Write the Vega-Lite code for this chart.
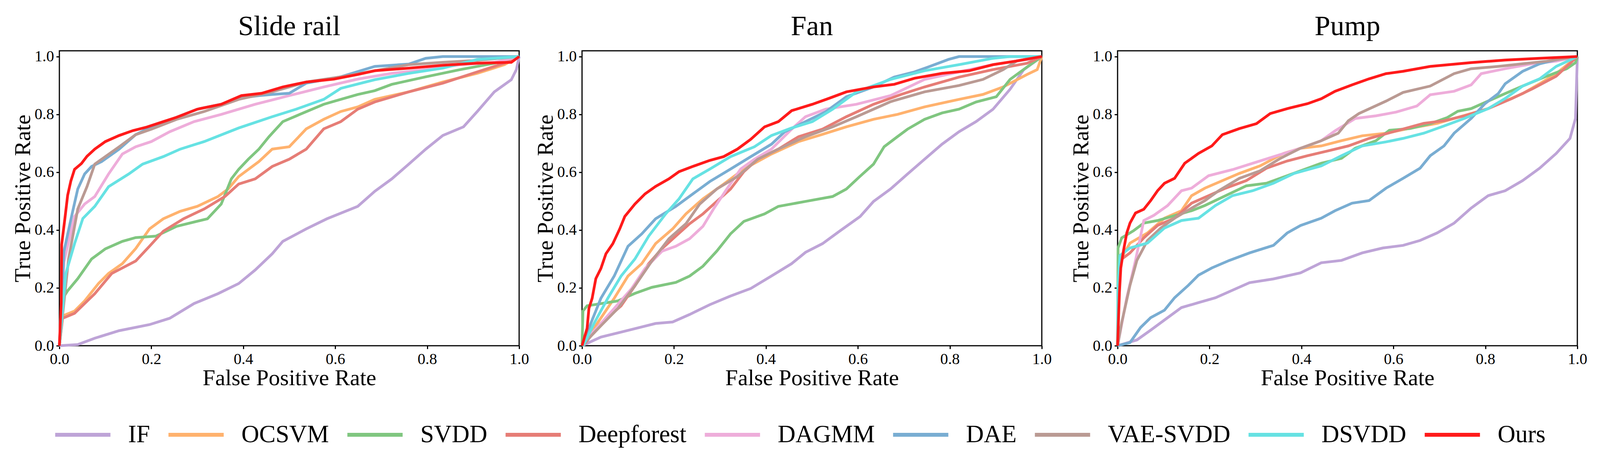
{
"$schema": "https://vega.github.io/schema/vega-lite/v6.json",
"padding": {"left": 28, "top": 30, "right": 10, "bottom": 10},
"background": "white",
"config": {
  "font": "Liberation Serif",
  "view": {"stroke": "black", "strokeWidth": 3},
  "title": {"font": "Liberation Serif", "fontSize": 72, "fontWeight": "normal", "color": "black", "offset": 20},
  "axis": {"labelFont": "Liberation Serif", "titleFont": "Liberation Serif", "labelFontSize": 40, "titleFontSize": 58, "titleFontWeight": "normal", "labelColor": "black", "titleColor": "black", "tickColor": "black", "tickWidth": 3, "tickSize": 8, "domain": false, "grid": false, "labelPadding": 6, "titlePadding": 0, "labelFlush": false, "labelOverlap": false},
  "legend": {"orient": "bottom", "direction": "horizontal", "symbolType": "stroke", "symbolSize": 20000, "symbolStrokeWidth": 10, "labelFont": "Liberation Serif", "labelFontSize": 63, "labelColor": "black", "labelOffset": 40, "columnPadding": 26, "labelLimit": 0, "offset": 38, "title": null, "layout": {"bottom": {"anchor": "middle"}}}
},
"datasets": {
"slide": [
{"m":"IF","x":0,"y":0},{"m":"IF","x":0.04,"y":0.004},{"m":"IF","x":0.077,"y":0.026},{"m":"IF","x":0.13,"y":0.052},{"m":"IF","x":0.196,"y":0.073},{"m":"IF","x":0.24,"y":0.095},{"m":"IF","x":0.293,"y":0.146},{"m":"IF","x":0.345,"y":0.18},{"m":"IF","x":0.39,"y":0.215},{"m":"IF","x":0.426,"y":0.262},{"m":"IF","x":0.463,"y":0.318},{"m":"IF","x":0.486,"y":0.361},{"m":"IF","x":0.537,"y":0.404},{"m":"IF","x":0.582,"y":0.439},{"m":"IF","x":0.649,"y":0.482},{"m":"IF","x":0.686,"y":0.534},{"m":"IF","x":0.723,"y":0.577},{"m":"IF","x":0.76,"y":0.628},{"m":"IF","x":0.797,"y":0.68},{"m":"IF","x":0.834,"y":0.727},{"m":"IF","x":0.879,"y":0.757},{"m":"IF","x":0.909,"y":0.81},{"m":"IF","x":0.946,"y":0.878},{"m":"IF","x":0.983,"y":0.92},{"m":"IF","x":0.994,"y":0.955},{"m":"IF","x":1,"y":1},
{"m":"OCSVM","x":0,"y":0},{"m":"OCSVM","x":0.007,"y":0.103},{"m":"OCSVM","x":0.033,"y":0.12},{"m":"OCSVM","x":0.055,"y":0.155},{"m":"OCSVM","x":0.085,"y":0.215},{"m":"OCSVM","x":0.107,"y":0.25},{"m":"OCSVM","x":0.137,"y":0.284},{"m":"OCSVM","x":0.166,"y":0.336},{"m":"OCSVM","x":0.196,"y":0.404},{"m":"OCSVM","x":0.226,"y":0.439},{"m":"OCSVM","x":0.263,"y":0.465},{"m":"OCSVM","x":0.3,"y":0.482},{"m":"OCSVM","x":0.345,"y":0.516},{"m":"OCSVM","x":0.367,"y":0.542},{"m":"OCSVM","x":0.39,"y":0.585},{"m":"OCSVM","x":0.434,"y":0.637},{"m":"OCSVM","x":0.463,"y":0.68},{"m":"OCSVM","x":0.5,"y":0.688},{"m":"OCSVM","x":0.537,"y":0.75},{"m":"OCSVM","x":0.575,"y":0.783},{"m":"OCSVM","x":0.612,"y":0.81},{"m":"OCSVM","x":0.649,"y":0.826},{"m":"OCSVM","x":0.686,"y":0.852},{"m":"OCSVM","x":0.76,"y":0.878},{"m":"OCSVM","x":0.834,"y":0.912},{"m":"OCSVM","x":0.909,"y":0.942},{"m":"OCSVM","x":0.968,"y":0.972},{"m":"OCSVM","x":1,"y":1},
{"m":"SVDD","x":0,"y":0},{"m":"SVDD","x":0.007,"y":0.163},{"m":"SVDD","x":0.018,"y":0.19},{"m":"SVDD","x":0.04,"y":0.232},{"m":"SVDD","x":0.07,"y":0.3},{"m":"SVDD","x":0.1,"y":0.335},{"m":"SVDD","x":0.137,"y":0.361},{"m":"SVDD","x":0.166,"y":0.374},{"m":"SVDD","x":0.21,"y":0.379},{"m":"SVDD","x":0.255,"y":0.413},{"m":"SVDD","x":0.322,"y":0.439},{"m":"SVDD","x":0.352,"y":0.49},{"m":"SVDD","x":0.374,"y":0.577},{"m":"SVDD","x":0.39,"y":0.61},{"m":"SVDD","x":0.411,"y":0.645},{"m":"SVDD","x":0.434,"y":0.68},{"m":"SVDD","x":0.456,"y":0.723},{"m":"SVDD","x":0.486,"y":0.775},{"m":"SVDD","x":0.523,"y":0.8},{"m":"SVDD","x":0.575,"y":0.835},{"m":"SVDD","x":0.649,"y":0.869},{"m":"SVDD","x":0.686,"y":0.882},{"m":"SVDD","x":0.723,"y":0.904},{"m":"SVDD","x":0.797,"y":0.93},{"m":"SVDD","x":0.872,"y":0.955},{"m":"SVDD","x":0.946,"y":0.977},{"m":"SVDD","x":1,"y":1},
{"m":"Deepforest","x":0,"y":0},{"m":"Deepforest","x":0.007,"y":0.095},{"m":"Deepforest","x":0.033,"y":0.112},{"m":"Deepforest","x":0.077,"y":0.18},{"m":"Deepforest","x":0.114,"y":0.25},{"m":"Deepforest","x":0.166,"y":0.293},{"m":"Deepforest","x":0.196,"y":0.344},{"m":"Deepforest","x":0.226,"y":0.396},{"m":"Deepforest","x":0.27,"y":0.439},{"m":"Deepforest","x":0.315,"y":0.473},{"m":"Deepforest","x":0.36,"y":0.516},{"m":"Deepforest","x":0.39,"y":0.559},{"m":"Deepforest","x":0.426,"y":0.577},{"m":"Deepforest","x":0.463,"y":0.62},{"m":"Deepforest","x":0.5,"y":0.645},{"m":"Deepforest","x":0.537,"y":0.68},{"m":"Deepforest","x":0.575,"y":0.75},{"m":"Deepforest","x":0.612,"y":0.775},{"m":"Deepforest","x":0.649,"y":0.818},{"m":"Deepforest","x":0.686,"y":0.843},{"m":"Deepforest","x":0.76,"y":0.878},{"m":"Deepforest","x":0.834,"y":0.908},{"m":"Deepforest","x":0.909,"y":0.947},{"m":"Deepforest","x":0.968,"y":0.977},{"m":"Deepforest","x":1,"y":1},
{"m":"DAGMM","x":0,"y":0},{"m":"DAGMM","x":0.01,"y":0.29},{"m":"DAGMM","x":0.033,"y":0.447},{"m":"DAGMM","x":0.055,"y":0.49},{"m":"DAGMM","x":0.077,"y":0.516},{"m":"DAGMM","x":0.107,"y":0.594},{"m":"DAGMM","x":0.137,"y":0.663},{"m":"DAGMM","x":0.166,"y":0.688},{"m":"DAGMM","x":0.2,"y":0.706},{"m":"DAGMM","x":0.24,"y":0.74},{"m":"DAGMM","x":0.293,"y":0.775},{"m":"DAGMM","x":0.352,"y":0.8},{"m":"DAGMM","x":0.426,"y":0.835},{"m":"DAGMM","x":0.5,"y":0.865},{"m":"DAGMM","x":0.575,"y":0.895},{"m":"DAGMM","x":0.649,"y":0.922},{"m":"DAGMM","x":0.723,"y":0.942},{"m":"DAGMM","x":0.797,"y":0.955},{"m":"DAGMM","x":0.872,"y":0.972},{"m":"DAGMM","x":0.946,"y":0.98},{"m":"DAGMM","x":1,"y":1},
{"m":"DAE","x":0,"y":0},{"m":"DAE","x":0.01,"y":0.327},{"m":"DAE","x":0.029,"y":0.465},{"m":"DAE","x":0.04,"y":0.542},{"m":"DAE","x":0.055,"y":0.594},{"m":"DAE","x":0.07,"y":0.62},{"m":"DAE","x":0.092,"y":0.637},{"m":"DAE","x":0.13,"y":0.68},{"m":"DAE","x":0.166,"y":0.73},{"m":"DAE","x":0.2,"y":0.757},{"m":"DAE","x":0.255,"y":0.79},{"m":"DAE","x":0.3,"y":0.818},{"m":"DAE","x":0.352,"y":0.835},{"m":"DAE","x":0.39,"y":0.856},{"m":"DAE","x":0.434,"y":0.865},{"m":"DAE","x":0.463,"y":0.869},{"m":"DAE","x":0.5,"y":0.873},{"m":"DAE","x":0.537,"y":0.908},{"m":"DAE","x":0.612,"y":0.93},{"m":"DAE","x":0.686,"y":0.966},{"m":"DAE","x":0.76,"y":0.974},{"m":"DAE","x":0.797,"y":0.994},{"m":"DAE","x":0.834,"y":1},{"m":"DAE","x":1,"y":1},
{"m":"VAE-SVDD","x":0,"y":0},{"m":"VAE-SVDD","x":0.02,"y":0.3},{"m":"VAE-SVDD","x":0.04,"y":0.473},{"m":"VAE-SVDD","x":0.06,"y":0.55},{"m":"VAE-SVDD","x":0.077,"y":0.628},{"m":"VAE-SVDD","x":0.13,"y":0.688},{"m":"VAE-SVDD","x":0.166,"y":0.73},{"m":"VAE-SVDD","x":0.2,"y":0.749},{"m":"VAE-SVDD","x":0.255,"y":0.783},{"m":"VAE-SVDD","x":0.315,"y":0.81},{"m":"VAE-SVDD","x":0.39,"y":0.852},{"m":"VAE-SVDD","x":0.463,"y":0.878},{"m":"VAE-SVDD","x":0.537,"y":0.912},{"m":"VAE-SVDD","x":0.612,"y":0.93},{"m":"VAE-SVDD","x":0.686,"y":0.951},{"m":"VAE-SVDD","x":0.76,"y":0.972},{"m":"VAE-SVDD","x":0.834,"y":0.98},{"m":"VAE-SVDD","x":0.909,"y":0.987},{"m":"VAE-SVDD","x":1,"y":1},
{"m":"DSVDD","x":0,"y":0},{"m":"DSVDD","x":0.014,"y":0.25},{"m":"DSVDD","x":0.033,"y":0.353},{"m":"DSVDD","x":0.051,"y":0.44},{"m":"DSVDD","x":0.077,"y":0.482},{"m":"DSVDD","x":0.107,"y":0.55},{"m":"DSVDD","x":0.151,"y":0.594},{"m":"DSVDD","x":0.181,"y":0.628},{"m":"DSVDD","x":0.226,"y":0.654},{"m":"DSVDD","x":0.263,"y":0.68},{"m":"DSVDD","x":0.315,"y":0.706},{"m":"DSVDD","x":0.39,"y":0.753},{"m":"DSVDD","x":0.463,"y":0.792},{"m":"DSVDD","x":0.515,"y":0.818},{"m":"DSVDD","x":0.575,"y":0.852},{"m":"DSVDD","x":0.612,"y":0.89},{"m":"DSVDD","x":0.686,"y":0.92},{"m":"DSVDD","x":0.76,"y":0.942},{"m":"DSVDD","x":0.834,"y":0.96},{"m":"DSVDD","x":0.909,"y":0.99},{"m":"DSVDD","x":1,"y":1},
{"m":"Ours","x":0,"y":0},{"m":"Ours","x":0.004,"y":0.15},{"m":"Ours","x":0.005,"y":0.35},{"m":"Ours","x":0.012,"y":0.44},{"m":"Ours","x":0.018,"y":0.52},{"m":"Ours","x":0.025,"y":0.57},{"m":"Ours","x":0.033,"y":0.61},{"m":"Ours","x":0.048,"y":0.63},{"m":"Ours","x":0.06,"y":0.655},{"m":"Ours","x":0.077,"y":0.68},{"m":"Ours","x":0.1,"y":0.706},{"m":"Ours","x":0.13,"y":0.727},{"m":"Ours","x":0.16,"y":0.744},{"m":"Ours","x":0.19,"y":0.756},{"m":"Ours","x":0.226,"y":0.775},{"m":"Ours","x":0.255,"y":0.79},{"m":"Ours","x":0.3,"y":0.818},{"m":"Ours","x":0.352,"y":0.835},{"m":"Ours","x":0.396,"y":0.865},{"m":"Ours","x":0.44,"y":0.873},{"m":"Ours","x":0.486,"y":0.895},{"m":"Ours","x":0.537,"y":0.912},{"m":"Ours","x":0.597,"y":0.922},{"m":"Ours","x":0.649,"y":0.938},{"m":"Ours","x":0.686,"y":0.951},{"m":"Ours","x":0.76,"y":0.96},{"m":"Ours","x":0.834,"y":0.97},{"m":"Ours","x":0.909,"y":0.977},{"m":"Ours","x":0.983,"y":0.98},{"m":"Ours","x":1,"y":1}
],
"fan": [
{"m":"IF","x":0,"y":0},{"m":"IF","x":0.041,"y":0.03},{"m":"IF","x":0.085,"y":0.047},{"m":"IF","x":0.13,"y":0.065},{"m":"IF","x":0.16,"y":0.077},{"m":"IF","x":0.197,"y":0.082},{"m":"IF","x":0.234,"y":0.108},{"m":"IF","x":0.278,"y":0.142},{"m":"IF","x":0.323,"y":0.172},{"m":"IF","x":0.367,"y":0.198},{"m":"IF","x":0.412,"y":0.241},{"m":"IF","x":0.456,"y":0.284},{"m":"IF","x":0.486,"y":0.323},{"m":"IF","x":0.523,"y":0.353},{"m":"IF","x":0.56,"y":0.396},{"m":"IF","x":0.605,"y":0.447},{"m":"IF","x":0.634,"y":0.499},{"m":"IF","x":0.671,"y":0.542},{"m":"IF","x":0.708,"y":0.594},{"m":"IF","x":0.745,"y":0.645},{"m":"IF","x":0.783,"y":0.697},{"m":"IF","x":0.82,"y":0.74},{"m":"IF","x":0.857,"y":0.775},{"m":"IF","x":0.894,"y":0.818},{"m":"IF","x":0.931,"y":0.887},{"m":"IF","x":0.961,"y":0.955},{"m":"IF","x":1,"y":1},
{"m":"OCSVM","x":0,"y":0},{"m":"OCSVM","x":0.004,"y":0.004},{"m":"OCSVM","x":0.033,"y":0.077},{"m":"OCSVM","x":0.07,"y":0.164},{"m":"OCSVM","x":0.1,"y":0.241},{"m":"OCSVM","x":0.13,"y":0.284},{"m":"OCSVM","x":0.16,"y":0.353},{"m":"OCSVM","x":0.197,"y":0.404},{"m":"OCSVM","x":0.226,"y":0.456},{"m":"OCSVM","x":0.263,"y":0.508},{"m":"OCSVM","x":0.308,"y":0.559},{"m":"OCSVM","x":0.352,"y":0.611},{"m":"OCSVM","x":0.412,"y":0.663},{"m":"OCSVM","x":0.471,"y":0.706},{"m":"OCSVM","x":0.523,"y":0.731},{"m":"OCSVM","x":0.575,"y":0.757},{"m":"OCSVM","x":0.634,"y":0.783},{"m":"OCSVM","x":0.686,"y":0.8},{"m":"OCSVM","x":0.745,"y":0.826},{"m":"OCSVM","x":0.82,"y":0.852},{"m":"OCSVM","x":0.872,"y":0.869},{"m":"OCSVM","x":0.916,"y":0.895},{"m":"OCSVM","x":0.968,"y":0.938},{"m":"OCSVM","x":0.99,"y":0.955},{"m":"OCSVM","x":1,"y":1},
{"m":"SVDD","x":0,"y":0},{"m":"SVDD","x":0.002,"y":0.12},{"m":"SVDD","x":0.011,"y":0.138},{"m":"SVDD","x":0.078,"y":0.155},{"m":"SVDD","x":0.115,"y":0.181},{"m":"SVDD","x":0.152,"y":0.202},{"m":"SVDD","x":0.204,"y":0.219},{"m":"SVDD","x":0.234,"y":0.241},{"m":"SVDD","x":0.263,"y":0.275},{"m":"SVDD","x":0.293,"y":0.327},{"m":"SVDD","x":0.323,"y":0.387},{"m":"SVDD","x":0.352,"y":0.43},{"m":"SVDD","x":0.397,"y":0.456},{"m":"SVDD","x":0.427,"y":0.482},{"m":"SVDD","x":0.486,"y":0.499},{"m":"SVDD","x":0.545,"y":0.516},{"m":"SVDD","x":0.575,"y":0.542},{"m":"SVDD","x":0.604,"y":0.585},{"m":"SVDD","x":0.634,"y":0.628},{"m":"SVDD","x":0.657,"y":0.688},{"m":"SVDD","x":0.686,"y":0.723},{"m":"SVDD","x":0.708,"y":0.749},{"m":"SVDD","x":0.745,"y":0.783},{"m":"SVDD","x":0.783,"y":0.805},{"m":"SVDD","x":0.82,"y":0.818},{"m":"SVDD","x":0.857,"y":0.843},{"m":"SVDD","x":0.901,"y":0.861},{"m":"SVDD","x":0.931,"y":0.921},{"m":"SVDD","x":0.968,"y":0.964},{"m":"SVDD","x":1,"y":1},
{"m":"Deepforest","x":0,"y":0},{"m":"Deepforest","x":0.007,"y":0.009},{"m":"Deepforest","x":0.041,"y":0.077},{"m":"Deepforest","x":0.085,"y":0.138},{"m":"Deepforest","x":0.115,"y":0.207},{"m":"Deepforest","x":0.145,"y":0.284},{"m":"Deepforest","x":0.174,"y":0.336},{"m":"Deepforest","x":0.204,"y":0.379},{"m":"Deepforest","x":0.234,"y":0.422},{"m":"Deepforest","x":0.263,"y":0.456},{"m":"Deepforest","x":0.293,"y":0.499},{"m":"Deepforest","x":0.323,"y":0.542},{"m":"Deepforest","x":0.352,"y":0.602},{"m":"Deepforest","x":0.382,"y":0.645},{"m":"Deepforest","x":0.427,"y":0.68},{"m":"Deepforest","x":0.471,"y":0.723},{"m":"Deepforest","x":0.523,"y":0.749},{"m":"Deepforest","x":0.575,"y":0.792},{"m":"Deepforest","x":0.634,"y":0.835},{"m":"Deepforest","x":0.694,"y":0.869},{"m":"Deepforest","x":0.745,"y":0.895},{"m":"Deepforest","x":0.82,"y":0.929},{"m":"Deepforest","x":0.894,"y":0.955},{"m":"Deepforest","x":0.968,"y":0.977},{"m":"Deepforest","x":1,"y":1},
{"m":"DAGMM","x":0,"y":0},{"m":"DAGMM","x":0.007,"y":0.017},{"m":"DAGMM","x":0.041,"y":0.077},{"m":"DAGMM","x":0.07,"y":0.129},{"m":"DAGMM","x":0.108,"y":0.198},{"m":"DAGMM","x":0.137,"y":0.267},{"m":"DAGMM","x":0.174,"y":0.327},{"m":"DAGMM","x":0.204,"y":0.344},{"m":"DAGMM","x":0.234,"y":0.37},{"m":"DAGMM","x":0.263,"y":0.413},{"m":"DAGMM","x":0.286,"y":0.473},{"m":"DAGMM","x":0.315,"y":0.542},{"m":"DAGMM","x":0.345,"y":0.611},{"m":"DAGMM","x":0.375,"y":0.645},{"m":"DAGMM","x":0.412,"y":0.68},{"m":"DAGMM","x":0.456,"y":0.749},{"m":"DAGMM","x":0.486,"y":0.792},{"m":"DAGMM","x":0.53,"y":0.818},{"m":"DAGMM","x":0.597,"y":0.835},{"m":"DAGMM","x":0.671,"y":0.865},{"m":"DAGMM","x":0.745,"y":0.921},{"m":"DAGMM","x":0.82,"y":0.947},{"m":"DAGMM","x":0.894,"y":0.972},{"m":"DAGMM","x":0.968,"y":0.99},{"m":"DAGMM","x":1,"y":1},
{"m":"DAE","x":0,"y":0},{"m":"DAE","x":0.004,"y":0.009},{"m":"DAE","x":0.019,"y":0.077},{"m":"DAE","x":0.041,"y":0.164},{"m":"DAE","x":0.07,"y":0.241},{"m":"DAE","x":0.1,"y":0.344},{"m":"DAE","x":0.13,"y":0.387},{"m":"DAE","x":0.16,"y":0.439},{"m":"DAE","x":0.204,"y":0.482},{"m":"DAE","x":0.241,"y":0.525},{"m":"DAE","x":0.278,"y":0.568},{"m":"DAE","x":0.323,"y":0.611},{"m":"DAE","x":0.367,"y":0.654},{"m":"DAE","x":0.412,"y":0.697},{"m":"DAE","x":0.441,"y":0.74},{"m":"DAE","x":0.486,"y":0.775},{"m":"DAE","x":0.53,"y":0.809},{"m":"DAE","x":0.575,"y":0.861},{"m":"DAE","x":0.634,"y":0.895},{"m":"DAE","x":0.679,"y":0.929},{"m":"DAE","x":0.723,"y":0.947},{"m":"DAE","x":0.753,"y":0.964},{"m":"DAE","x":0.797,"y":0.99},{"m":"DAE","x":0.82,"y":1},{"m":"DAE","x":1,"y":1},
{"m":"VAE-SVDD","x":0,"y":0},{"m":"VAE-SVDD","x":0.007,"y":0.013},{"m":"VAE-SVDD","x":0.041,"y":0.069},{"m":"VAE-SVDD","x":0.078,"y":0.129},{"m":"VAE-SVDD","x":0.115,"y":0.207},{"m":"VAE-SVDD","x":0.152,"y":0.293},{"m":"VAE-SVDD","x":0.189,"y":0.37},{"m":"VAE-SVDD","x":0.226,"y":0.422},{"m":"VAE-SVDD","x":0.256,"y":0.49},{"m":"VAE-SVDD","x":0.293,"y":0.542},{"m":"VAE-SVDD","x":0.338,"y":0.585},{"m":"VAE-SVDD","x":0.382,"y":0.645},{"m":"VAE-SVDD","x":0.427,"y":0.68},{"m":"VAE-SVDD","x":0.486,"y":0.723},{"m":"VAE-SVDD","x":0.545,"y":0.757},{"m":"VAE-SVDD","x":0.597,"y":0.792},{"m":"VAE-SVDD","x":0.671,"y":0.844},{"m":"VAE-SVDD","x":0.745,"y":0.878},{"m":"VAE-SVDD","x":0.82,"y":0.9},{"m":"VAE-SVDD","x":0.872,"y":0.921},{"m":"VAE-SVDD","x":0.916,"y":0.955},{"m":"VAE-SVDD","x":0.946,"y":0.985},{"m":"VAE-SVDD","x":1,"y":1},
{"m":"DSVDD","x":0,"y":0},{"m":"DSVDD","x":0.004,"y":0.004},{"m":"DSVDD","x":0.026,"y":0.077},{"m":"DSVDD","x":0.056,"y":0.164},{"m":"DSVDD","x":0.085,"y":0.241},{"m":"DSVDD","x":0.115,"y":0.3},{"m":"DSVDD","x":0.145,"y":0.379},{"m":"DSVDD","x":0.182,"y":0.456},{"m":"DSVDD","x":0.211,"y":0.508},{"m":"DSVDD","x":0.241,"y":0.577},{"m":"DSVDD","x":0.278,"y":0.611},{"m":"DSVDD","x":0.323,"y":0.654},{"m":"DSVDD","x":0.375,"y":0.688},{"m":"DSVDD","x":0.412,"y":0.727},{"m":"DSVDD","x":0.456,"y":0.753},{"m":"DSVDD","x":0.501,"y":0.775},{"m":"DSVDD","x":0.545,"y":0.818},{"m":"DSVDD","x":0.597,"y":0.878},{"m":"DSVDD","x":0.671,"y":0.921},{"m":"DSVDD","x":0.745,"y":0.951},{"m":"DSVDD","x":0.82,"y":0.972},{"m":"DSVDD","x":0.894,"y":0.994},{"m":"DSVDD","x":0.931,"y":1},{"m":"DSVDD","x":1,"y":1},
{"m":"Ours","x":0,"y":0},{"m":"Ours","x":0.011,"y":0.06},{"m":"Ours","x":0.015,"y":0.129},{"m":"Ours","x":0.022,"y":0.164},{"m":"Ours","x":0.03,"y":0.232},{"m":"Ours","x":0.041,"y":0.267},{"m":"Ours","x":0.052,"y":0.318},{"m":"Ours","x":0.067,"y":0.353},{"m":"Ours","x":0.082,"y":0.404},{"m":"Ours","x":0.093,"y":0.447},{"m":"Ours","x":0.115,"y":0.49},{"m":"Ours","x":0.137,"y":0.525},{"m":"Ours","x":0.16,"y":0.551},{"m":"Ours","x":0.189,"y":0.577},{"m":"Ours","x":0.211,"y":0.602},{"m":"Ours","x":0.241,"y":0.62},{"m":"Ours","x":0.278,"y":0.641},{"m":"Ours","x":0.308,"y":0.654},{"m":"Ours","x":0.338,"y":0.68},{"m":"Ours","x":0.367,"y":0.714},{"m":"Ours","x":0.397,"y":0.757},{"m":"Ours","x":0.427,"y":0.775},{"m":"Ours","x":0.456,"y":0.813},{"m":"Ours","x":0.501,"y":0.835},{"m":"Ours","x":0.538,"y":0.856},{"m":"Ours","x":0.575,"y":0.878},{"m":"Ours","x":0.634,"y":0.895},{"m":"Ours","x":0.679,"y":0.904},{"m":"Ours","x":0.723,"y":0.925},{"m":"Ours","x":0.783,"y":0.942},{"m":"Ours","x":0.842,"y":0.951},{"m":"Ours","x":0.894,"y":0.972},{"m":"Ours","x":0.946,"y":0.985},{"m":"Ours","x":1,"y":1}
],
"pump": [
{"m":"IF","x":0,"y":0},{"m":"IF","x":0.042,"y":0.02},{"m":"IF","x":0.072,"y":0.054},{"m":"IF","x":0.102,"y":0.089},{"m":"IF","x":0.139,"y":0.132},{"m":"IF","x":0.176,"y":0.149},{"m":"IF","x":0.213,"y":0.166},{"m":"IF","x":0.25,"y":0.192},{"m":"IF","x":0.287,"y":0.218},{"m":"IF","x":0.339,"y":0.231},{"m":"IF","x":0.398,"y":0.252},{"m":"IF","x":0.443,"y":0.287},{"m":"IF","x":0.487,"y":0.295},{"m":"IF","x":0.532,"y":0.321},{"m":"IF","x":0.577,"y":0.338},{"m":"IF","x":0.621,"y":0.347},{"m":"IF","x":0.658,"y":0.364},{"m":"IF","x":0.695,"y":0.39},{"m":"IF","x":0.732,"y":0.424},{"m":"IF","x":0.769,"y":0.476},{"m":"IF","x":0.806,"y":0.519},{"m":"IF","x":0.843,"y":0.536},{"m":"IF","x":0.881,"y":0.571},{"m":"IF","x":0.918,"y":0.614},{"m":"IF","x":0.954,"y":0.665},{"m":"IF","x":0.984,"y":0.717},{"m":"IF","x":0.996,"y":0.786},{"m":"IF","x":1,"y":1},
{"m":"OCSVM","x":0,"y":0},{"m":"OCSVM","x":0.005,"y":0.295},{"m":"OCSVM","x":0.027,"y":0.355},{"m":"OCSVM","x":0.065,"y":0.39},{"m":"OCSVM","x":0.102,"y":0.441},{"m":"OCSVM","x":0.139,"y":0.467},{"m":"OCSVM","x":0.161,"y":0.519},{"m":"OCSVM","x":0.19,"y":0.545},{"m":"OCSVM","x":0.228,"y":0.571},{"m":"OCSVM","x":0.265,"y":0.596},{"m":"OCSVM","x":0.31,"y":0.622},{"m":"OCSVM","x":0.361,"y":0.665},{"m":"OCSVM","x":0.398,"y":0.683},{"m":"OCSVM","x":0.443,"y":0.691},{"m":"OCSVM","x":0.487,"y":0.709},{"m":"OCSVM","x":0.532,"y":0.726},{"m":"OCSVM","x":0.584,"y":0.735},{"m":"OCSVM","x":0.636,"y":0.752},{"m":"OCSVM","x":0.695,"y":0.769},{"m":"OCSVM","x":0.732,"y":0.786},{"m":"OCSVM","x":0.769,"y":0.803},{"m":"OCSVM","x":0.806,"y":0.82},{"m":"OCSVM","x":0.843,"y":0.846},{"m":"OCSVM","x":0.881,"y":0.872},{"m":"OCSVM","x":0.918,"y":0.906},{"m":"OCSVM","x":0.954,"y":0.941},{"m":"OCSVM","x":1,"y":1},
{"m":"SVDD","x":0,"y":0},{"m":"SVDD","x":0.001,"y":0.338},{"m":"SVDD","x":0.009,"y":0.373},{"m":"SVDD","x":0.035,"y":0.398},{"m":"SVDD","x":0.057,"y":0.424},{"m":"SVDD","x":0.087,"y":0.433},{"m":"SVDD","x":0.124,"y":0.45},{"m":"SVDD","x":0.161,"y":0.467},{"m":"SVDD","x":0.19,"y":0.485},{"m":"SVDD","x":0.235,"y":0.519},{"m":"SVDD","x":0.28,"y":0.553},{"m":"SVDD","x":0.324,"y":0.562},{"m":"SVDD","x":0.369,"y":0.588},{"m":"SVDD","x":0.398,"y":0.605},{"m":"SVDD","x":0.443,"y":0.631},{"m":"SVDD","x":0.487,"y":0.648},{"m":"SVDD","x":0.517,"y":0.683},{"m":"SVDD","x":0.562,"y":0.709},{"m":"SVDD","x":0.591,"y":0.745},{"m":"SVDD","x":0.636,"y":0.751},{"m":"SVDD","x":0.68,"y":0.768},{"m":"SVDD","x":0.717,"y":0.789},{"m":"SVDD","x":0.74,"y":0.811},{"m":"SVDD","x":0.769,"y":0.82},{"m":"SVDD","x":0.806,"y":0.846},{"m":"SVDD","x":0.843,"y":0.872},{"m":"SVDD","x":0.881,"y":0.898},{"m":"SVDD","x":0.933,"y":0.932},{"m":"SVDD","x":0.977,"y":0.958},{"m":"SVDD","x":0.996,"y":0.979},{"m":"SVDD","x":1,"y":1},
{"m":"Deepforest","x":0,"y":0},{"m":"Deepforest","x":0.005,"y":0.295},{"m":"Deepforest","x":0.027,"y":0.321},{"m":"Deepforest","x":0.057,"y":0.373},{"m":"Deepforest","x":0.087,"y":0.416},{"m":"Deepforest","x":0.124,"y":0.441},{"m":"Deepforest","x":0.161,"y":0.493},{"m":"Deepforest","x":0.198,"y":0.519},{"m":"Deepforest","x":0.235,"y":0.545},{"m":"Deepforest","x":0.28,"y":0.571},{"m":"Deepforest","x":0.324,"y":0.614},{"m":"Deepforest","x":0.369,"y":0.639},{"m":"Deepforest","x":0.413,"y":0.657},{"m":"Deepforest","x":0.458,"y":0.674},{"m":"Deepforest","x":0.502,"y":0.691},{"m":"Deepforest","x":0.547,"y":0.717},{"m":"Deepforest","x":0.606,"y":0.743},{"m":"Deepforest","x":0.666,"y":0.769},{"m":"Deepforest","x":0.71,"y":0.778},{"m":"Deepforest","x":0.754,"y":0.795},{"m":"Deepforest","x":0.806,"y":0.82},{"m":"Deepforest","x":0.858,"y":0.855},{"m":"Deepforest","x":0.903,"y":0.889},{"m":"Deepforest","x":0.954,"y":0.932},{"m":"Deepforest","x":1,"y":1},
{"m":"DAGMM","x":0,"y":0},{"m":"DAGMM","x":0.02,"y":0.166},{"m":"DAGMM","x":0.039,"y":0.295},{"m":"DAGMM","x":0.057,"y":0.433},{"m":"DAGMM","x":0.079,"y":0.451},{"m":"DAGMM","x":0.109,"y":0.485},{"m":"DAGMM","x":0.139,"y":0.536},{"m":"DAGMM","x":0.161,"y":0.545},{"m":"DAGMM","x":0.198,"y":0.588},{"m":"DAGMM","x":0.25,"y":0.609},{"m":"DAGMM","x":0.294,"y":0.631},{"m":"DAGMM","x":0.346,"y":0.657},{"m":"DAGMM","x":0.398,"y":0.683},{"m":"DAGMM","x":0.443,"y":0.709},{"m":"DAGMM","x":0.473,"y":0.743},{"m":"DAGMM","x":0.517,"y":0.786},{"m":"DAGMM","x":0.562,"y":0.795},{"m":"DAGMM","x":0.606,"y":0.808},{"m":"DAGMM","x":0.651,"y":0.829},{"m":"DAGMM","x":0.68,"y":0.868},{"m":"DAGMM","x":0.732,"y":0.88},{"m":"DAGMM","x":0.769,"y":0.902},{"m":"DAGMM","x":0.791,"y":0.941},{"m":"DAGMM","x":0.843,"y":0.958},{"m":"DAGMM","x":0.902,"y":0.975},{"m":"DAGMM","x":0.954,"y":0.984},{"m":"DAGMM","x":1,"y":1},
{"m":"DAE","x":0,"y":0},{"m":"DAE","x":0.027,"y":0.011},{"m":"DAE","x":0.05,"y":0.063},{"m":"DAE","x":0.072,"y":0.097},{"m":"DAE","x":0.102,"y":0.123},{"m":"DAE","x":0.124,"y":0.166},{"m":"DAE","x":0.154,"y":0.209},{"m":"DAE","x":0.176,"y":0.244},{"m":"DAE","x":0.205,"y":0.269},{"m":"DAE","x":0.243,"y":0.295},{"m":"DAE","x":0.287,"y":0.321},{"m":"DAE","x":0.339,"y":0.347},{"m":"DAE","x":0.369,"y":0.39},{"m":"DAE","x":0.398,"y":0.416},{"m":"DAE","x":0.443,"y":0.441},{"m":"DAE","x":0.473,"y":0.467},{"m":"DAE","x":0.51,"y":0.493},{"m":"DAE","x":0.547,"y":0.502},{"m":"DAE","x":0.584,"y":0.545},{"m":"DAE","x":0.621,"y":0.579},{"m":"DAE","x":0.658,"y":0.614},{"m":"DAE","x":0.68,"y":0.657},{"m":"DAE","x":0.71,"y":0.691},{"m":"DAE","x":0.732,"y":0.735},{"m":"DAE","x":0.769,"y":0.786},{"m":"DAE","x":0.799,"y":0.837},{"m":"DAE","x":0.828,"y":0.872},{"m":"DAE","x":0.843,"y":0.906},{"m":"DAE","x":0.881,"y":0.949},{"m":"DAE","x":0.918,"y":0.975},{"m":"DAE","x":0.962,"y":0.992},{"m":"DAE","x":1,"y":1},
{"m":"VAE-SVDD","x":0,"y":0},{"m":"VAE-SVDD","x":0.009,"y":0.08},{"m":"VAE-SVDD","x":0.027,"y":0.209},{"m":"VAE-SVDD","x":0.042,"y":0.295},{"m":"VAE-SVDD","x":0.065,"y":0.364},{"m":"VAE-SVDD","x":0.094,"y":0.407},{"m":"VAE-SVDD","x":0.124,"y":0.441},{"m":"VAE-SVDD","x":0.161,"y":0.476},{"m":"VAE-SVDD","x":0.19,"y":0.502},{"m":"VAE-SVDD","x":0.22,"y":0.536},{"m":"VAE-SVDD","x":0.265,"y":0.579},{"m":"VAE-SVDD","x":0.31,"y":0.605},{"m":"VAE-SVDD","x":0.354,"y":0.648},{"m":"VAE-SVDD","x":0.398,"y":0.683},{"m":"VAE-SVDD","x":0.443,"y":0.709},{"m":"VAE-SVDD","x":0.48,"y":0.735},{"m":"VAE-SVDD","x":0.502,"y":0.778},{"m":"VAE-SVDD","x":0.525,"y":0.803},{"m":"VAE-SVDD","x":0.584,"y":0.846},{"m":"VAE-SVDD","x":0.621,"y":0.876},{"m":"VAE-SVDD","x":0.68,"y":0.898},{"m":"VAE-SVDD","x":0.732,"y":0.941},{"m":"VAE-SVDD","x":0.769,"y":0.958},{"m":"VAE-SVDD","x":0.828,"y":0.966},{"m":"VAE-SVDD","x":0.881,"y":0.975},{"m":"VAE-SVDD","x":0.933,"y":0.984},{"m":"VAE-SVDD","x":1,"y":1},
{"m":"DSVDD","x":0,"y":0},{"m":"DSVDD","x":0.001,"y":0.209},{"m":"DSVDD","x":0.005,"y":0.312},{"m":"DSVDD","x":0.027,"y":0.338},{"m":"DSVDD","x":0.065,"y":0.355},{"m":"DSVDD","x":0.102,"y":0.407},{"m":"DSVDD","x":0.139,"y":0.433},{"m":"DSVDD","x":0.176,"y":0.441},{"m":"DSVDD","x":0.213,"y":0.485},{"m":"DSVDD","x":0.25,"y":0.519},{"m":"DSVDD","x":0.294,"y":0.536},{"m":"DSVDD","x":0.339,"y":0.562},{"m":"DSVDD","x":0.384,"y":0.596},{"m":"DSVDD","x":0.443,"y":0.622},{"m":"DSVDD","x":0.487,"y":0.657},{"m":"DSVDD","x":0.532,"y":0.691},{"m":"DSVDD","x":0.584,"y":0.705},{"m":"DSVDD","x":0.621,"y":0.717},{"m":"DSVDD","x":0.666,"y":0.735},{"m":"DSVDD","x":0.71,"y":0.76},{"m":"DSVDD","x":0.754,"y":0.786},{"m":"DSVDD","x":0.806,"y":0.82},{"m":"DSVDD","x":0.843,"y":0.855},{"m":"DSVDD","x":0.881,"y":0.898},{"m":"DSVDD","x":0.918,"y":0.923},{"m":"DSVDD","x":0.954,"y":0.966},{"m":"DSVDD","x":1,"y":1},
{"m":"Ours","x":0,"y":0},{"m":"Ours","x":0.004,"y":0.183},{"m":"Ours","x":0.007,"y":0.269},{"m":"Ours","x":0.013,"y":0.33},{"m":"Ours","x":0.02,"y":0.39},{"m":"Ours","x":0.027,"y":0.424},{"m":"Ours","x":0.039,"y":0.459},{"m":"Ours","x":0.057,"y":0.472},{"m":"Ours","x":0.072,"y":0.502},{"m":"Ours","x":0.087,"y":0.536},{"m":"Ours","x":0.102,"y":0.562},{"m":"Ours","x":0.124,"y":0.579},{"m":"Ours","x":0.146,"y":0.631},{"m":"Ours","x":0.176,"y":0.665},{"m":"Ours","x":0.205,"y":0.691},{"m":"Ours","x":0.228,"y":0.73},{"m":"Ours","x":0.265,"y":0.751},{"m":"Ours","x":0.302,"y":0.768},{"m":"Ours","x":0.332,"y":0.803},{"m":"Ours","x":0.369,"y":0.82},{"m":"Ours","x":0.413,"y":0.837},{"m":"Ours","x":0.443,"y":0.854},{"m":"Ours","x":0.473,"y":0.88},{"m":"Ours","x":0.51,"y":0.902},{"m":"Ours","x":0.547,"y":0.923},{"m":"Ours","x":0.584,"y":0.941},{"m":"Ours","x":0.621,"y":0.949},{"m":"Ours","x":0.68,"y":0.966},{"m":"Ours","x":0.769,"y":0.979},{"m":"Ours","x":0.843,"y":0.988},{"m":"Ours","x":0.918,"y":0.994},{"m":"Ours","x":1,"y":1}
]
},
"resolve": {"scale": {"color": "shared"}, "legend": {"color": "shared"}},
"spacing": 43,
"hconcat": [
  {
    "spacing": 10,
    "resolve": {"scale": {"color": "shared"}, "legend": {"color": "shared"}},
    "hconcat": [
      {
        "title": "Slide rail",
        "data": {"name": "slide"},
        "width": 1177, "height": 755,
        "mark": {"type": "line", "strokeWidth": 7, "interpolate": "linear"},
        "encoding": {
          "x": {"field": "x", "type": "quantitative", "scale": {"domain": [0, 1], "nice": false}, "axis": {"title": "False Positive Rate", "values": [0, 0.2, 0.4, 0.6, 0.8, 1.0], "format": ".1f"}},
          "y": {"field": "y", "type": "quantitative", "scale": {"domain": [0, 1.02], "nice": false}, "axis": {"title": "True Positive Rate", "values": [0, 0.2, 0.4, 0.6, 0.8, 1.0], "format": ".1f"}},
          "color": {"field": "m", "type": "nominal", "sort": null, "scale": {"domain": ["IF", "OCSVM", "SVDD", "Deepforest", "DAGMM", "DAE", "VAE-SVDD", "DSVDD", "Ours"], "range": ["#BEA4D7", "#FFB26E", "#80C680", "#E67D76", "#EEADDA", "#79ADD2", "#BA9A93", "#66E2E3", "#FF1A1A"]}, "legend": {"title": null}}
        }
      },
      {
        "title": "Fan",
        "data": {"name": "fan"},
        "width": 1177, "height": 755,
        "mark": {"type": "line", "strokeWidth": 7, "interpolate": "linear"},
        "encoding": {
          "x": {"field": "x", "type": "quantitative", "scale": {"domain": [0, 1], "nice": false}, "axis": {"title": "False Positive Rate", "values": [0, 0.2, 0.4, 0.6, 0.8, 1.0], "format": ".1f"}},
          "y": {"field": "y", "type": "quantitative", "scale": {"domain": [0, 1.02], "nice": false}, "axis": {"title": "True Positive Rate", "values": [0, 0.2, 0.4, 0.6, 0.8, 1.0], "format": ".1f"}},
          "color": {"field": "m", "type": "nominal", "sort": null, "scale": {"domain": ["IF", "OCSVM", "SVDD", "Deepforest", "DAGMM", "DAE", "VAE-SVDD", "DSVDD", "Ours"], "range": ["#BEA4D7", "#FFB26E", "#80C680", "#E67D76", "#EEADDA", "#79ADD2", "#BA9A93", "#66E2E3", "#FF1A1A"]}, "legend": {"title": null}}
        }
      }
    ]
  },
  {
    "title": "Pump",
    "data": {"name": "pump"},
    "width": 1177, "height": 755,
    "mark": {"type": "line", "strokeWidth": 7, "interpolate": "linear"},
    "encoding": {
      "x": {"field": "x", "type": "quantitative", "scale": {"domain": [0, 1], "nice": false}, "axis": {"title": "False Positive Rate", "values": [0, 0.2, 0.4, 0.6, 0.8, 1.0], "format": ".1f"}},
      "y": {"field": "y", "type": "quantitative", "scale": {"domain": [0, 1.02], "nice": false}, "axis": {"title": "True Positive Rate", "values": [0, 0.2, 0.4, 0.6, 0.8, 1.0], "format": ".1f"}},
      "color": {"field": "m", "type": "nominal", "sort": null, "scale": {"domain": ["IF", "OCSVM", "SVDD", "Deepforest", "DAGMM", "DAE", "VAE-SVDD", "DSVDD", "Ours"], "range": ["#BEA4D7", "#FFB26E", "#80C680", "#E67D76", "#EEADDA", "#79ADD2", "#BA9A93", "#66E2E3", "#FF1A1A"]}, "legend": {"title": null}}
    }
  }
]
}
